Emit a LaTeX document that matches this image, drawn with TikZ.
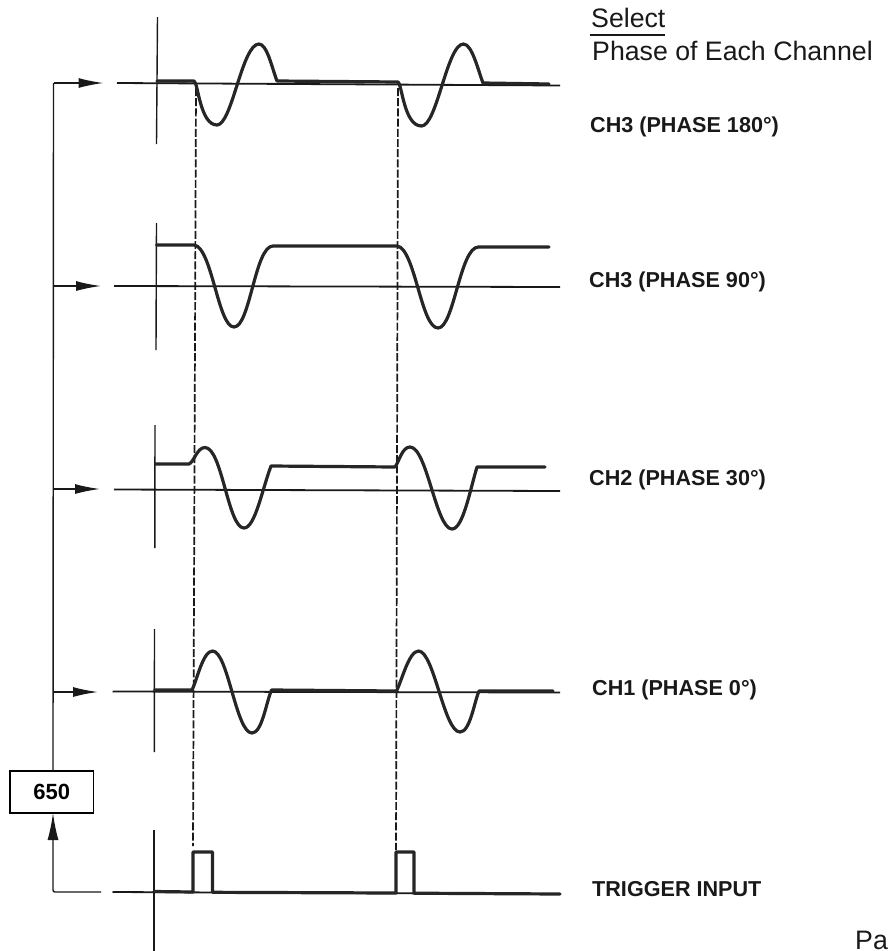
\documentclass[tikz,border=0pt]{standalone}
\usepackage{fontspec}
\setmainfont{Liberation Sans}
\usetikzlibrary{arrows.meta}
\tikzset{
  wave/.style={line width=3.2pt,line join=round,line cap=round,black!85},
  base/.style={line width=1.8pt,black!90},
  fine/.style={line width=1.4pt,black!90},
  dashline/.style={line width=1.7pt,dash pattern=on 8pt off 2.2pt,black!90},
  lead/.style={line width=1.4pt,black!90,-{Latex[length=25pt,width=10pt]}},
  lbl/.style={anchor=base west,inner sep=0pt,font=\fontsize{21.6pt}{24pt}\selectfont\bfseries,black!90},
  head/.style={anchor=base west,inner sep=0pt,font=\fontsize{26.7pt}{30pt}\selectfont,black!90}
}
\begin{document}
\begin{tikzpicture}[x=1pt,y=-1pt]
\useasboundingbox (0,0) rectangle (888,951);
% ---- left bus and box
\node (box) [draw,line width=1.6pt,minimum width=83.5pt,minimum height=42pt,inner sep=0pt,font=\fontsize{22pt}{24pt}\selectfont\bfseries] at (51.7,792) {650};
\coordinate (busT) at (53.5,83);
\coordinate (busB) at (53,892);
\coordinate (boxT) at (53,771);
\coordinate (boxB) at (53,813);
\draw[fine] (boxT) -- (busT);
% arrows
\coordinate (a1) at (103.5,83);
\coordinate (a2) at (101,286);
\coordinate (a3) at (100,489);
\coordinate (a4) at (98,692);
\coordinate (s2) at (53.3,286);
\coordinate (s3) at (53.2,489);
\coordinate (s4) at (53.1,692);
\draw[lead] (busT) -- (a1);
\draw[lead] (s2) -- (a2);
\draw[lead] (s3) -- (a3);
\draw[lead] (s4) -- (a4);
\coordinate (t0) at (101,892);
\draw[fine,rounded corners=2pt,-{Latex[length=27pt,width=11pt]}] (t0) -- (busB) -- (boxB);
% baselines
\draw[base] (117,83) -- (560,85.5);
\draw[base] (114,286) -- (560,287);
\draw[base] (114,489.5) -- (560,491);
\draw[base] (112.5,691.5) -- (560,692.5);
\draw[base] (112.5,892) -- (560,894);
% axes
\draw[fine] (157.5,17) -- (156.5,144);
\draw[fine] (156.5,223) -- (156,350);
\draw[fine] (155,425) -- (154.8,548);
\draw[fine] (154.5,629) -- (154.3,752);
\draw[base] (154,830) -- (154,951);
% dashed
\draw[dashline] (196,88) -- (193,846);
\draw[dashline] (398,88) -- (396,850);
% waveform 1
\draw[wave] (157,81) -- (194,81) .. controls (198,82) and (200,125) .. (217,125)
  .. controls (232,125) and (242,44) .. (259,44)
  .. controls (267,44) and (272,68) .. (277,81) -- (398,82)
  .. controls (402,84) and (404,126) .. (421.5,126)
  .. controls (437,126) and (447,44) .. (463.5,44)
  .. controls (472,44) and (478,70) .. (483,83) -- (549,84);
% waveform 2
\draw[wave] (156.5,245) -- (194,245) .. controls (212,247) and (218,327) .. (234,327)
  .. controls (250,327) and (255,246) .. (273,246) -- (397,246)
  .. controls (415,248) and (421,328) .. (438,328)
  .. controls (454,328) and (460,247) .. (478.5,247) -- (549,247);
% waveform 3
\draw[wave] (155.5,464) -- (189,464) .. controls (194,462) and (197,447.5) .. (205,447.5)
  .. controls (222,447.5) and (228,528) .. (244,528)
  .. controls (255,528) and (262,490) .. (271,466) -- (395,467)
  .. controls (399,462) and (402,447) .. (410,447)
  .. controls (427,447) and (436,529) .. (452,529)
  .. controls (463,529) and (470,490) .. (477,467) -- (545,467);
% waveform 4
\draw[wave] (154.5,690) -- (192,690) .. controls (197,680) and (203,651) .. (212.5,651)
  .. controls (228,651) and (236,733) .. (252,733)
  .. controls (262,733) and (266,703) .. (271.5,690) -- (396.5,691)
  .. controls (402,680) and (409,651) .. (418.5,651)
  .. controls (434,651) and (444,732) .. (460,732)
  .. controls (470,732) and (474,703) .. (479,691) -- (553,691);
% trigger
\draw[wave] (154,891.5) -- (193,892) -- (193,852) -- (212.5,852) -- (212.5,892.3) -- (396,893) -- (396,852) -- (414,852) -- (414,893.2) -- (560,894);
% labels
\node (sel) [head] at (591,27) {Select};
\coordinate (ulA) at (590,35);
\coordinate (ulB) at (665,35);
\draw[fine] (ulA) -- (ulB);
\node (phase) [head] at (592,60) {Phase of Each Channel};
\node (l1) [lbl] at (590,132) {CH3 (PHASE 180°)};
\node (l2) [lbl] at (589,287) {CH3 (PHASE 90°)};
\node (l3) [lbl] at (589,485) {CH2 (PHASE 30°)};
\node (l4) [lbl] at (592,695) {CH1 (PHASE 0°)};
\node (l5) [lbl] at (592,896) {TRIGGER INPUT};
\node (pg) [head] at (855,949) {Page};
\end{tikzpicture}
\end{document}
